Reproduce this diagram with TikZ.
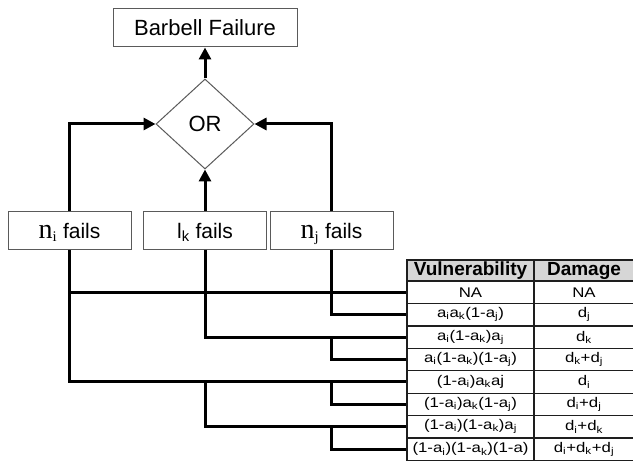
\documentclass[tikz,border=0pt]{standalone}
\usepackage{fontspec}
\setmainfont{Liberation Sans}
\newfontfamily\serifletter{Liberation Serif}
\newfontfamily\cellfont[FakeStretch=1.2]{Liberation Sans}
\usetikzlibrary{shapes.geometric,arrows.meta,calc}

\definecolor{boxgray}{HTML}{5A5A5A}
\definecolor{gridgray}{HTML}{1E1E1E}
\definecolor{headgray}{HTML}{D6D6D6}

\newcommand\lowidx[1]{\textsubscript{#1}}
\newcommand\nodevar[1]{{\serifletter\fontsize{28}{28}\selectfont n}\lowidx{\serifletter #1}}

\tikzset{
  box/.style={draw=boxgray, line width=1pt, minimum width=123pt, minimum height=38pt,
              inner sep=0pt, text height=20pt, text depth=4.4pt,
              font=\fontsize{21}{24}\selectfont},
  topbox/.style={box, minimum width=184pt, font=\fontsize{22}{26}\selectfont},
  gate/.style={diamond, draw=boxgray, line width=1pt, minimum width=98pt, minimum height=90pt,
               inner sep=0pt, font=\fontsize{22}{26}\selectfont},
  link/.style={line width=3pt},
  flow/.style={link, -{Triangle[length=12pt,width=12pt]}},
  cell/.style={draw=gridgray, line width=1.3pt, inner sep=0pt, minimum height=22.44pt,
               font=\cellfont\fontsize{14}{16}\selectfont},
  vcell/.style={cell, minimum width=127pt},
  dcell/.style={cell, minimum width=100pt},
  head/.style={fill=headgray, minimum height=21pt, font=\bfseries\fontsize{19}{21}\selectfont},
}

\begin{document}
\begin{tikzpicture}[x=1pt, y=-1pt]
  \fill[white] (0,0) rectangle (633,462);
  \useasboundingbox (0,0) rectangle (633,462);

  % fault tree
  \node[topbox] (top) at (205,28) {Barbell Failure};
  \node[gate] (gate) at (205,124) {OR};
  \node[box] (ni) at (69.5,230.5) {\nodevar{i} fails};
  \node[box] (lk) at (205,230.5) {l\lowidx{k} fails};
  \node[box] (nj) at (331.5,230.5) {\nodevar{j} fails};

  \draw[flow] (gate.north) -- (top.south);
  \draw[flow] (ni.north) |- (gate.west);
  \draw[flow] (nj.north) |- (gate.east);
  \draw[flow] (lk.north) -- (gate.south);

  % outcome table
  \node[vcell, head] (hv) at (470.5,270.5) {Vulnerability};
  \node[dcell, head] (hd) at (584,270.5) {Damage};
  \foreach \vul/\dam [count=\i] in {
      NA/NA,
      {a\lowidx{i}a\lowidx{k}(1-a\lowidx{j})}/{d\lowidx{j}},
      {a\lowidx{i}(1-a\lowidx{k})a\lowidx{j}}/{d\lowidx{k}},
      {a\lowidx{i}(1-a\lowidx{k})(1-a\lowidx{j})}/{d\lowidx{k}+d\lowidx{j}},
      {(1-a\lowidx{i})a\lowidx{k}aj}/{d\lowidx{i}},
      {(1-a\lowidx{i})a\lowidx{k}(1-a\lowidx{j})}/{d\lowidx{i}+d\lowidx{j}},
      {(1-a\lowidx{i})(1-a\lowidx{k})a\lowidx{j}}/{d\lowidx{i}+d\lowidx{k}},
      {(1-a\lowidx{i})(1-a\lowidx{k})(1-a)}/{d\lowidx{i}+d\lowidx{k}+d\lowidx{j}}} {
    \node[vcell] (r\i) at (470.5,{281+22.44*(\i-0.5)}) {\vul};
    \node[dcell] (d\i) at (584,{281+22.44*(\i-0.5)}) {\dam};
  }

  % branches from each component to the table rows
  \draw[link] (ni.south) |- (r5.west);
  \draw[link] (ni.south |- r1.west) -- (r1.west);
  \draw[link] (lk.south) |- (r3.west);
  \draw[link] (lk.south |- r5.west) |- (r7.west);
  \draw[link] (nj.south) |- (r2.west);
  \draw[link] (nj.south |- r3.west) |- (r4.west);
  \draw[link] (nj.south |- r5.west) |- (r6.west);
  \draw[link] (nj.south |- r7.west) |- (r8.west);
\end{tikzpicture}
\end{document}
